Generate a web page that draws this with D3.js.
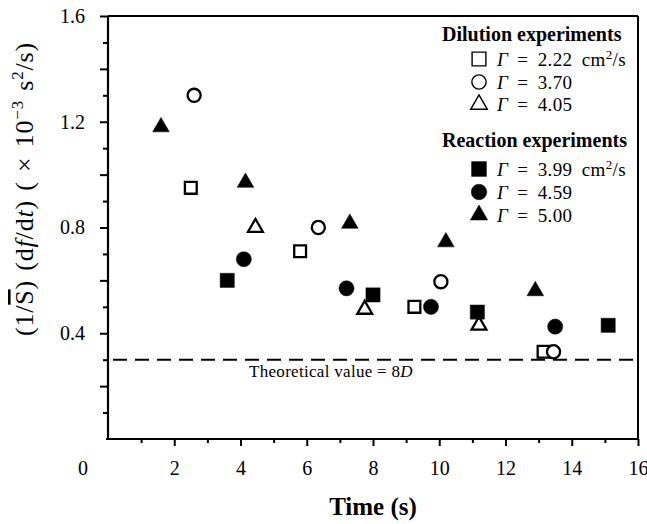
<!DOCTYPE html>
<html><head><meta charset="utf-8">
<script src="https://cdn.jsdelivr.net/npm/d3@7"></script>
<style>
body{margin:0;background:#fff}
svg text{font-family:"Liberation Serif","Times New Roman",serif;fill:#000}
</style></head>
<body><svg id="chart" width="647" height="524"></svg>
<script>
// ---- data ----
const dilutionSquares   = [[2.5,0.95],[5.8,0.71],[9.25,0.50],[13.15,0.33]];      // Γ = 2.22
const dilutionCircles   = [[2.6,1.30],[6.35,0.80],[10.05,0.595],[13.45,0.33]];   // Γ = 3.70
const dilutionTriangles = [[4.45,0.80],[7.75,0.49],[11.2,0.43]];                 // Γ = 4.05
const reactionSquares   = [[3.6,0.60],[8.0,0.545],[11.15,0.48],[15.1,0.43]];     // Γ = 3.99
const reactionCircles   = [[4.1,0.68],[7.2,0.57],[9.75,0.50],[13.5,0.425]];      // Γ = 4.59
const reactionTriangles = [[1.6,1.18],[4.15,0.97],[7.3,0.815],[10.2,0.745],[12.9,0.56]]; // Γ = 5.00
const theoreticalValue = 0.30;
const xMajorTicks = [2,4,6,8,10,12,14,16];
const xMinorTicks = [1,3,5,7,9,11,13,15];
const yLabelTicks = [0.4,0.8,1.2,1.6];
const yLongTicks  = [0.2,0.6,1.0,1.4];
const yShortTicks = [0.1,0.3,0.5,0.7,0.9,1.1,1.3,1.5];
const dilutionLabels = ["2.22","3.70","4.05"];
const reactionLabels = ["3.99","4.59","5.00"];

const svg = d3.select("#chart");
const x = d3.scaleLinear([0,16],[108,638]);
const y = d3.scaleLinear([0,1.6],[439,16]);

// frame (top and right)
svg.append("line").attr("x1",x(0)).attr("x2",x(16)).attr("y1",y(1.6)).attr("y2",y(1.6)).attr("stroke","#000").attr("stroke-width",2);
svg.append("line").attr("x1",x(16)).attr("x2",x(16)).attr("y1",y(1.6)).attr("y2",y(0)).attr("stroke","#000").attr("stroke-width",2);

// x axis
const gx = svg.append("g").attr("transform",`translate(0,${y(0)})`);
gx.call(d3.axisBottom(x).tickValues(xMajorTicks).tickSize(7).tickPadding(15).tickFormat(d3.format("d")));
const gx2 = svg.append("g").attr("transform",`translate(0,${y(0)})`);
gx2.call(d3.axisBottom(x).tickValues(xMinorTicks).tickSize(4).tickFormat(""));
gx2.select(".domain").remove();

// y axis
const gy = svg.append("g").attr("transform",`translate(${x(0)},0)`);
gy.call(d3.axisLeft(y).tickValues(yLabelTicks).tickSize(8).tickPadding(15).tickFormat(d3.format(".1f")));
const gy2 = svg.append("g").attr("transform",`translate(${x(0)},0)`);
gy2.call(d3.axisLeft(y).tickValues(yLongTicks).tickSize(8).tickFormat(""));
gy2.select(".domain").remove();
const gy3 = svg.append("g").attr("transform",`translate(${x(0)},0)`);
gy3.call(d3.axisLeft(y).tickValues(yShortTicks).tickSize(5).tickFormat(""));
gy3.select(".domain").remove();

svg.selectAll(".domain").attr("stroke-width",2.2);
gx.select(".domain").attr("d",`M${x(0)-2},0H${x(16)}`);
gy.select(".domain").attr("d",`M0,${y(1.6)}V${y(0)}`);
svg.selectAll(".tick line").attr("stroke-width",2);
svg.selectAll(".tick text").style("font-size","20px").style("font-family","'Liberation Serif',serif");

// corner zero
svg.append("text").attr("x",83).attr("y",475).attr("text-anchor","middle").style("font-size","20px").text("0");

// theoretical line
svg.append("line").attr("x1",x(0)+5).attr("x2",x(16)).attr("y1",y(theoreticalValue)).attr("y2",y(theoreticalValue))
  .attr("stroke","#000").attr("stroke-width",2).attr("stroke-dasharray","14,8");
const th = svg.append("text").attr("x",249).attr("y",377).style("font-size","17px").style("letter-spacing","0.3px");
th.append("tspan").text("Theoretical value = 8");
th.append("tspan").style("font-style","italic").text("D");

// symbols
const sym = (type,size)=>d3.symbol().type(type).size(size)();
function plot(data,type,size,open){
  svg.append("g").selectAll("path").data(data).join("path")
    .attr("transform",d=>`translate(${x(d[0])},${y(d[1])})`)
    .attr("d",sym(type,size))
    .attr("fill",open?"#fff":"#000")
    .attr("stroke","#000").attr("stroke-width",open?2.3:0.5);
}
plot(dilutionSquares,d3.symbolSquare,140,true);
plot(dilutionCircles,d3.symbolCircle,135,true);
plot(dilutionTriangles,d3.symbolTriangle,95,true);
plot(reactionSquares,d3.symbolSquare,200,false);
plot(reactionCircles,d3.symbolCircle,180,false);
plot(reactionTriangles,d3.symbolTriangle,120,false);

// legend
function header(txt,yb){
  svg.append("text").attr("x",442).attr("y",yb).style("font-size","20px").style("font-weight","bold").text(txt);
}
function entry(type,size,open,yc,val,unit){
  svg.append("path").attr("transform",`translate(479,${yc})`).attr("d",sym(type,size))
    .attr("fill",open?"#fff":"#000").attr("stroke","#000").attr("stroke-width",open?1.4:0.5);
  const t = svg.append("text").attr("x",497).attr("y",yc+6.5).style("font-size","19px")
    .style("word-spacing","4px").style("letter-spacing","0.4px");
  t.append("tspan").style("font-style","italic").text("Γ");
  t.append("tspan").text(" = "+val+(unit?" cm":""));
  if(unit){
    t.append("tspan").attr("dy",-7).style("font-size","13px").text("2");
    t.append("tspan").attr("dy",7).text("/s");
  }
}
header("Dilution experiments",41);
entry(d3.symbolSquare,190,true,59,dilutionLabels[0],true);
entry(d3.symbolCircle,160,true,82,dilutionLabels[1],false);
entry(d3.symbolTriangle,120,true,104.5,dilutionLabels[2],false);
header("Reaction experiments",147);
entry(d3.symbolSquare,220,false,169,reactionLabels[0],true);
entry(d3.symbolCircle,190,false,192,reactionLabels[1],false);
entry(d3.symbolTriangle,130,false,215,reactionLabels[2],false);

// axis titles
svg.append("text").attr("x",373).attr("y",515).attr("text-anchor","middle")
  .style("font-size","25px").style("font-weight","bold").text("Time (s)");

const yl = svg.append("text").attr("transform","translate(33,189) rotate(-90)").attr("text-anchor","middle")
  .style("font-size","26px").style("letter-spacing","0.8px").style("word-spacing","2px");
yl.append("tspan").text("(1/");
yl.append("tspan").attr("text-decoration","overline").style("text-decoration","overline").text("S");
yl.append("tspan").text(") (d");
yl.append("tspan").style("font-style","italic").text("f");
yl.append("tspan").text("/d");
yl.append("tspan").style("font-style","italic").text("t");
yl.append("tspan").text(") ( × 10");
yl.append("tspan").attr("dy",-10).style("font-size","17px").text("−3");
yl.append("tspan").attr("dy",10).text(" s");
yl.append("tspan").attr("dy",-10).style("font-size","17px").text("2");
yl.append("tspan").attr("dy",10).text("/s)");
</script></body></html>
